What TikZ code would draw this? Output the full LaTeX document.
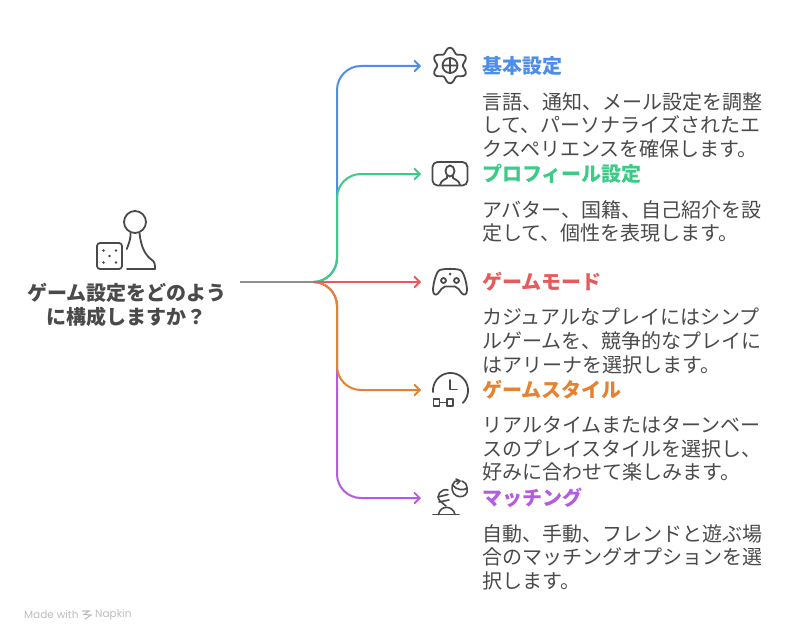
\documentclass[tikz,border=0pt]{standalone}
\usepackage{fontspec}
\setmainfont{Noto Sans CJK JP}
\newfontfamily\footfont{Poppins}
\usetikzlibrary{arrows.meta}
\definecolor{inkc}{HTML}{4A4A4A}
\definecolor{iconc}{HTML}{4A4A4A}
\definecolor{trunkc}{HTML}{8F8F8F}
\definecolor{bluec}{HTML}{4F8EE8}
\definecolor{greenc}{HTML}{3CCB87}
\definecolor{redc}{HTML}{E85A5A}
\definecolor{orangec}{HTML}{E5812F}
\definecolor{purplec}{HTML}{B45CE0}
\definecolor{footc}{HTML}{BDBDBD}
\tikzset{
  conn/.style={line width=2pt,rounded corners=24pt,-{Straight Barb[length=5.5pt,width=11pt,line width=1.8pt]}},
  icon/.style={draw=iconc,line width=1.8pt,line cap=round,line join=round},
  titletext/.style={font=\fontsize{20pt}{24pt}\selectfont\bfseries,anchor=west,inner sep=0pt},
  bodytext/.style={font=\fontsize{20pt}{23.7pt}\selectfont,text=inkc,anchor=north west,inner sep=0pt,align=left},
  roottext/.style={font=\fontsize{20pt}{24pt}\selectfont\bfseries,text=inkc,inner sep=0pt,align=center},
}
\begin{document}
\begin{tikzpicture}[x=1pt,y=-1pt]
\useasboundingbox (0,0) rectangle (792,642);
\fill[white] (0,0) rectangle (792,642);
% anchors
\coordinate (rootout) at (240,282);
\coordinate (hub) at (313,282);
\coordinate (spine) at (337,282);
\coordinate (a1) at (421,66);
\coordinate (a2) at (421,174);
\coordinate (a3) at (421,282);
\coordinate (a4) at (421,390);
\coordinate (a5) at (421,498);
% connectors
\draw[conn,bluec] (hub) -| (spine |- a1) -- (a1);
\draw[conn,purplec] (hub) -| (spine |- a5) -- (a5);
\draw[conn,greenc] (hub) -| (spine |- a2) -- (a2);
\draw[conn,orangec] (hub) -| (spine |- a4) -- (a4);
\draw[conn,redc] (hub) -- (a3);
\draw[line width=2pt,trunkc] (rootout) -- (hub);
% titles
\node[titletext,text=bluec] (t1) at (482,65.5) {基本設定};
\node[titletext,text=greenc] (t2) at (482,173.5) {プロフィール設定};
\node[titletext,text=redc] (t3) at (482,281.5) {ゲームモード};
\node[titletext,text=orangec] (t4) at (482,389.5) {ゲームスタイル};
\node[titletext,text=purplec] (t5) at (482,497.5) {マッチング};
% bodies
\node[bodytext] (b1) at (482,92) {言語、通知、メール設定を調整\\して、パーソナライズされたエ\\クスペリエンスを確保します。};
\node[bodytext] (b2) at (482,200) {アバター、国籍、自己紹介を設\\定して、個性を表現します。};
\node[bodytext] (b3) at (482,308) {カジュアルなプレイにはシンプ\\ルゲームを、競争的なプレイに\\はアリーナを選択します。};
\node[bodytext] (b4) at (482,416) {リアルタイムまたはターンベー\\スのプレイスタイルを選択し、\\好みに合わせて楽しみます。};
\node[bodytext] (b5) at (482,524) {自動、手動、フレンドと遊ぶ場\\合のマッチングオプションを選\\択します。};
\node[roottext] (root) at (127,305) {ゲーム設定をどのよう\\に構成しますか？};
% pawn and die
\draw[icon] (135,222) circle (11);
\draw[icon] (130.5,233) .. controls (131,239) and (128.5,244) .. (126.8,249);
\draw[icon] (139.5,233) .. controls (141,248) and (146,256) .. (152,260) .. controls (155,262) and (155,265) .. (155,269) -- (127,269);
\draw[icon,rounded corners=3pt] (97,243) rectangle (122,269);
\foreach \p in {(103.5,250.5),(116,250.5),(109.5,256),(103.5,262.5),(116,262.5)} \fill[iconc] \p circle (1.4);
% gear
\draw[icon] plot[smooth cycle,samples=48,domain=0:352.5] ({450+(15.3-2.6*cos(6*\x))*cos(\x)},{65.5+(15.3-2.6*cos(6*\x))*sin(\x)});
\draw[icon] (450,65.5) circle (7.5) (442.5,65.5) -- (457.5,65.5) (450,58) -- (450,73);
% profile
\draw[icon,rounded corners=5pt] (432.5,162) rectangle (467.5,185.5);
\draw[icon] (450,171) ellipse (4.5 and 5.5);
\draw[icon] (447,176) -- (447,178) .. controls (445,180) and (441,180) .. (440,185);
\draw[icon] (453,176) -- (453,178) .. controls (455,180) and (459,180) .. (460,185);
% gamepad
\draw[icon] (440,270) .. controls (444,268.5) and (456,268.5) .. (460,270) .. controls (464,271) and (467,285) .. (467,290) .. controls (467,295) and (464,295.5) .. (462,293.5) .. controls (459,290) and (458,287) .. (455,286.5) -- (445,286.5) .. controls (442,287) and (441,290) .. (438,293.5) .. controls (436,295.5) and (433,295) .. (433,290) .. controls (433,285) and (436,271) .. (440,270) -- cycle;
\draw[icon] (443.5,280.5) circle (2.5) (456.5,280.5) circle (2.5);
\fill[iconc] (450,274) circle (1.5);
% clock
\draw[icon] plot[smooth,samples=40,domain=175:405] ({450.5+17.5*cos(\x)},{390.5+17.5*sin(\x)});
\draw[icon] (450,380) -- (450,389.5) -- (457,389.5);
\draw[icon,line width=1.6pt] (433.5,399) rectangle (439.5,406) (447,399) rectangle (453,406) (439.5,402.5) -- (447,402.5);
% matching
\draw[icon,line width=1.6pt] (433,514.5) -- (459,514.5);
\draw[icon,line width=1.6pt] (438.5,514.5) .. controls (440,505) and (453,505) .. (455,514.5);
\draw[icon,line width=1.6pt] (452.5,485) .. controls (449,500) and (470,500) .. (467,488);
\draw[icon,line width=1.6pt] (452.5,485) .. controls (456,490) and (464,491) .. (467,488);
\draw[icon,line width=1.6pt] (452.5,485) .. controls (453,482) and (456,480) .. (459,480.5);
\draw[icon,line width=1.6pt] (462,481) .. controls (465,482) and (466.5,484) .. (467,488);
\draw[icon,line width=1.6pt] (456,479) -- (460,481) -- (457,484);
\draw[icon,line width=1.6pt] (448,490) .. controls (441,488) and (435,496) .. (440,501) -- (446,506);
\draw[icon,line width=1.6pt] (438,497) -- (448,494.5) (439,502) -- (449,500);
% footer
\node[font=\footfont\fontsize{10.5pt}{12pt}\selectfont,text=footc,anchor=west,inner sep=0pt] (foot1) at (24,615) {Made with};
\draw[footc,line width=1.1pt] (82,611) -- (89,611) -- (84,614.5) -- (91,615) -- (85,619);
\node[font=\footfont\fontsize{10.5pt}{12pt}\selectfont,text=footc,anchor=west,inner sep=0pt] (foot2) at (95,615) {Napkin};
\end{tikzpicture}
\end{document}
